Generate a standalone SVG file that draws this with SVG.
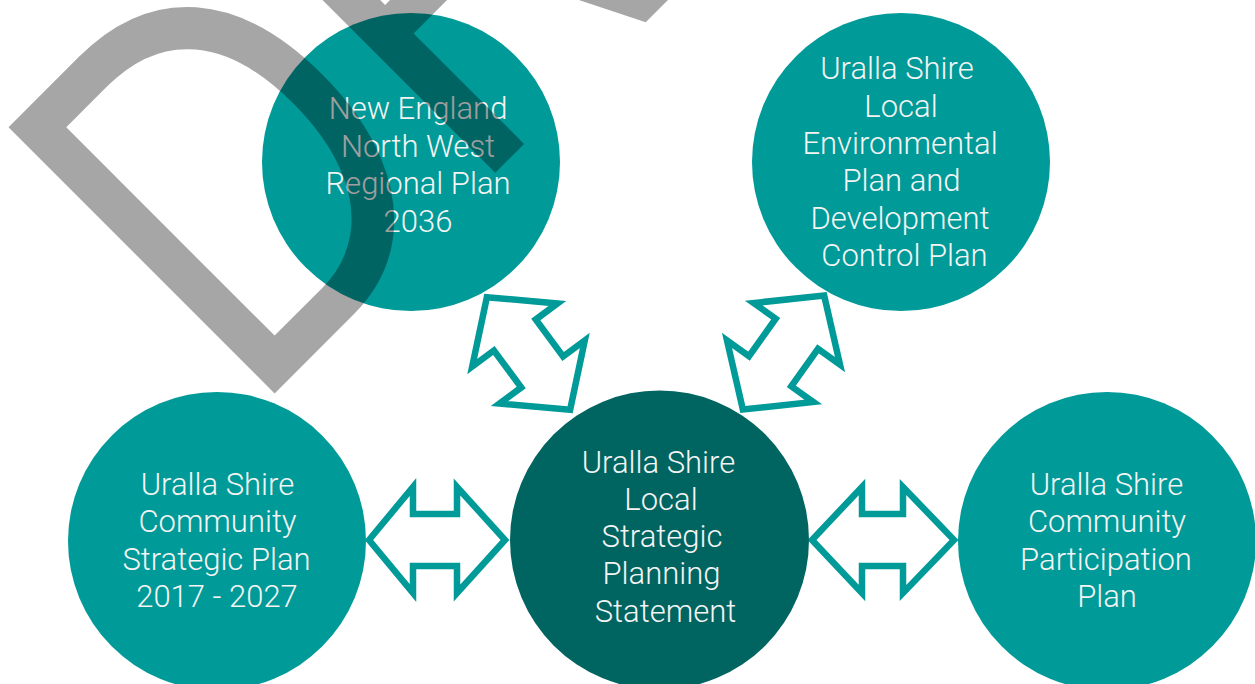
<svg xmlns="http://www.w3.org/2000/svg" width="1255" height="684" viewBox="0 0 1255 684">
<style>
.c{fill:#009A98}
.cd{fill:#006461}
.t{font-family:Roboto,"Liberation Sans",sans-serif;font-weight:300;font-size:31px;fill:#F4F4F4;text-anchor:middle}
.a{fill:#FFFFFF;stroke:#009A98;stroke-width:6.5;stroke-linejoin:miter;stroke-miterlimit:10}
.wm{font-family:"Liberation Sans",Arial,sans-serif;font-size:547px;fill:#000000;fill-opacity:0.35}
</style>
<defs>
<polygon id="darr" points="-70,0 -23,-53 -23,-26 23,-26 23,-53 70,0 23,53 23,26 -23,26 -23,53"/>
</defs>
<rect x="0" y="0" width="1255" height="684" fill="#FFFFFF"/>
<g id="connectors">
<polygon class="a" points="369,540 413,487 413,514 457,514 457,487 505,540 457,593 457,566 413,566 413,593"/>
<polygon class="a" points="812,540 862,487 862,514 903,514 903,487 954,540 903,593 903,566 862,566 862,593"/>
<use href="#darr" class="a" transform="translate(528.5,353.5) rotate(53.5)"/>
<use href="#darr" class="a" transform="translate(783.5,352.5) rotate(125.5)"/>
</g>
<g id="node-newengland">
<circle class="c" cx="411" cy="162" r="149"/>
<text class="t"><tspan x="418" y="119">New England</tspan><tspan x="418" y="157">North West</tspan><tspan x="418" y="194">Regional Plan</tspan><tspan x="418" y="232">2036</tspan></text>
</g>
<g id="node-lep">
<circle class="c" cx="901" cy="162" r="149"/>
<text class="t"><tspan x="897" y="79">Uralla Shire</tspan><tspan x="901" y="117">Local</tspan><tspan x="900" y="154">Environmental</tspan><tspan x="901.5" y="191">Plan and</tspan><tspan x="900" y="229">Development</tspan><tspan x="904.5" y="266">Control Plan</tspan></text>
</g>
<g id="node-csp">
<circle class="c" cx="217" cy="541" r="149"/>
<text class="t"><tspan x="217.5" y="495">Uralla Shire</tspan><tspan x="217.5" y="532">Community</tspan><tspan x="216.5" y="570">Strategic Plan</tspan><tspan x="217" y="607">2017 - 2027</tspan></text>
</g>
<g id="node-lsps">
<circle class="cd" cx="659.5" cy="540" r="149.5"/>
<text class="t"><tspan x="658.5" y="473">Uralla Shire</tspan><tspan x="661" y="510">Local</tspan><tspan x="662" y="547">Strategic</tspan><tspan x="661.5" y="584">Planning</tspan><tspan x="665.5" y="622">Statement</tspan></text>
</g>
<g id="node-cpp">
<circle class="c" cx="1107" cy="541" r="149"/>
<text class="t"><tspan x="1106.5" y="495">Uralla Shire</tspan><tspan x="1107" y="532">Community</tspan><tspan x="1106" y="570">Participation</tspan><tspan x="1107" y="607">Plan</tspan></text>
</g>
<g id="watermark">
<text class="wm" transform="translate(273,395) rotate(-45) scale(0.8,1)" x="-42 348">DRAFT</text>
</g>
</svg>
